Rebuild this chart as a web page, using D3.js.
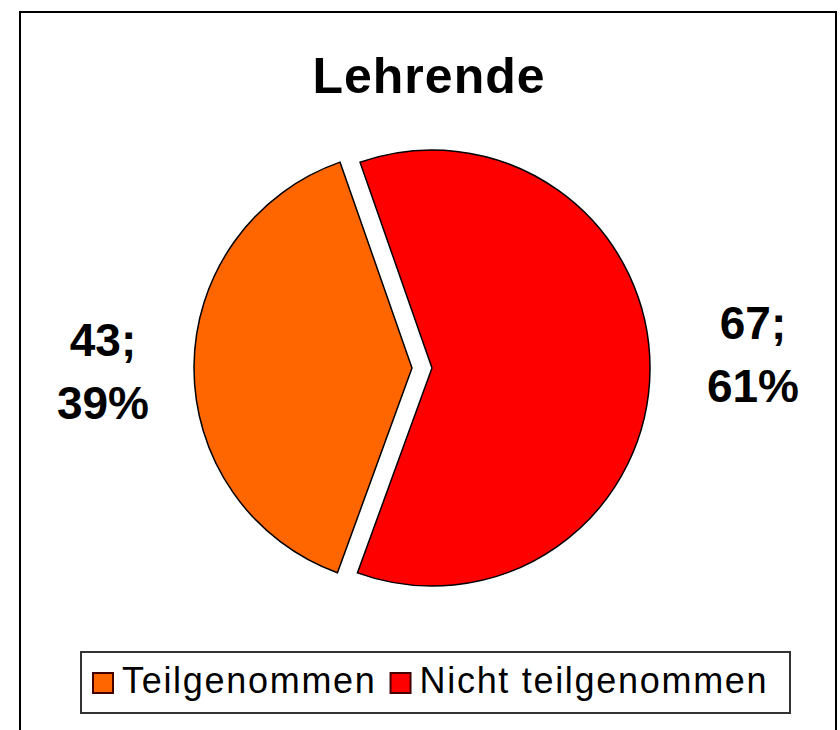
<!DOCTYPE html>
<html>
<head>
<meta charset="utf-8">
<script src="https://cdn.jsdelivr.net/npm/d3@7"></script>
<style>
  body { margin: 0; background: #fff; }
  svg { display: block; font-family: "Liberation Sans", Arial, sans-serif; }
</style>
</head>
<body>
<div id="chart"></div>
<script>
// Data
const categories = ["Teilgenommen", "Nicht teilgenommen"];
const counts = [43, 67];
const percents = [39, 61];
const colors = ["#ff6600", "#ff0000"];
const title = "Lehrende";

const width = 840, height = 730;

const svg = d3.select("#chart").append("svg")
  .attr("width", width)
  .attr("height", height);

svg.append("rect")
  .attr("width", width).attr("height", height)
  .attr("fill", "#fff");

// outer chart border
svg.append("rect")
  .attr("x", 20).attr("y", 12)
  .attr("width", 816).attr("height", 740)
  .attr("fill", "none")
  .attr("stroke", "#000")
  .attr("stroke-width", 2);

svg.append("text")
  .attr("x", 429).attr("y", 93)
  .attr("text-anchor", "middle")
  .style("font-size", "50px")
  .style("font-weight", "bold")
  .style("letter-spacing", "1px")
  .text(title);

// Pie
const cx = 422, cy = 368, r = 218, explode = 10;
const deg = Math.PI / 180;

const pie = d3.pie()
  .sort(null)
  .startAngle(200 * deg)
  .endAngle(560 * deg);

const arc = d3.arc().innerRadius(0).outerRadius(r);

const arcs = pie(counts);

const g = svg.append("g").attr("transform", `translate(${cx},${cy})`);

g.selectAll("path")
  .data(arcs)
  .enter()
  .append("path")
  .attr("d", arc)
  .attr("transform", d => {
    const a = (d.startAngle + d.endAngle) / 2;
    return `translate(${explode * Math.sin(a)},${-explode * Math.cos(a)})`;
  })
  .attr("fill", (d, i) => colors[i])
  .attr("stroke", "#000")
  .attr("stroke-width", 1.5)
  .attr("stroke-linejoin", "miter");

// Data labels
const labelPos = [[103, 356], [753, 339]];
arcs.forEach((d, i) => {
  const t = svg.append("text")
    .attr("text-anchor", "middle")
    .style("font-size", "46px")
    .style("font-weight", "bold");
  t.append("tspan")
    .attr("x", labelPos[i][0]).attr("y", labelPos[i][1])
    .text(counts[i] + ";");
  t.append("tspan")
    .attr("x", labelPos[i][0]).attr("dy", 63)
    .text(percents[i] + "%");
});

// Legend
const legend = svg.append("g");
legend.append("rect")
  .attr("x", 81).attr("y", 652)
  .attr("width", 709).attr("height", 61)
  .attr("fill", "#fff")
  .attr("stroke", "#333")
  .attr("stroke-width", 2);

let lx = 93;
categories.forEach((c, i) => {
  legend.append("rect")
    .attr("x", lx).attr("y", 673)
    .attr("width", 20).attr("height", 20)
    .attr("fill", colors[i])
    .attr("stroke", "#400")
    .attr("stroke-width", 2);
  const t = legend.append("text")
    .attr("x", lx + 29).attr("y", 693)
    .style("font-size", "36px")
    .style("letter-spacing", "1.7px")
    .text(c);
  lx += 29 + t.node().getComputedTextLength() + 14;
});
</script>
</body>
</html>
